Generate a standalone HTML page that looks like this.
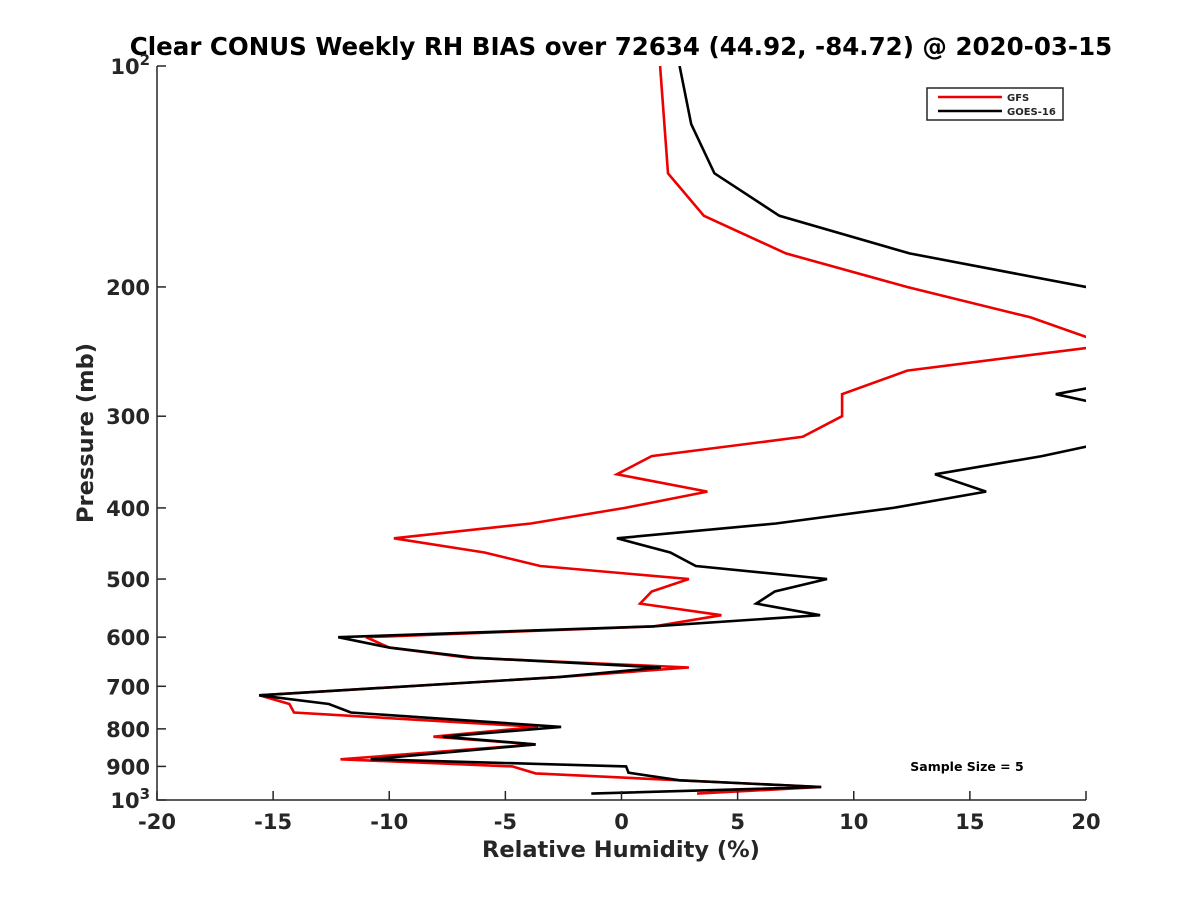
<!DOCTYPE html>
<html><head><meta charset="utf-8"><style>
body{margin:0;background:#fff}
svg text{font-family:"DejaVu Sans","Liberation Sans",sans-serif;font-weight:bold;fill:#262626}
</style></head><body>
<svg id="c" width="1200" height="900">
<rect width="1200" height="900" fill="#fff"/>
<text x="621" y="55" font-size="24.5" text-anchor="middle" style="fill:#000">Clear CONUS Weekly RH BIAS over 72634 (44.92, -84.72) @ 2020-03-15</text>
<defs><clipPath id="clip"><rect x="157" y="66" width="929" height="734"/></clipPath></defs>
<g id="series" clip-path="url(#clip)"></g>
<g id="axes"></g>
<g>
<rect x="927" y="88" width="136" height="32" fill="#fff" stroke="#262626" stroke-width="1.5"/>
<line x1="938" y1="97" x2="1002" y2="97" stroke="#e00" stroke-width="2.5"/>
<text x="1007" y="101" font-size="10">GFS</text>
<line x1="938" y1="111" x2="1002" y2="111" stroke="#000" stroke-width="2.5"/>
<text x="1007" y="115" font-size="10">GOES-16</text>
</g>
<text x="967" y="771" font-size="12.5" text-anchor="middle" style="fill:#000">Sample Size = 5</text>
<text x="621" y="857" font-size="22.5" text-anchor="middle">Relative Humidity (%)</text>
<text transform="translate(93,433) rotate(-90)" font-size="22.5" text-anchor="middle">Pressure (mb)</text>
</svg>
<script>
const gfsPressure=[100,140,160,180,200,220,240,260,280,300,320,340,360,380,400,420,440,460,480,500,520,540,560,580,600,620,640,660,680,720,740,760,795,820,840,880,900,920,940,960,980];
const gfsValues=[1.66,2.0,3.55,7.08,12.3,17.6,21.0,12.3,9.5,9.5,7.8,1.3,-0.2,3.7,0.15,-3.9,-9.8,-5.9,-3.5,2.9,1.3,0.8,4.3,1.4,-11.0,-10.0,-6.6,2.9,-2.7,-15.6,-14.3,-14.1,-3.6,-8.1,-3.7,-12.1,-4.7,-3.7,2.5,8.6,3.25];
const goesPressure=[100,120,140,160,180,200,220,260,280,300,320,340,360,380,400,420,440,460,480,500,520,540,560,580,600,620,640,660,680,720,740,760,795,820,840,880,890,900,918,940,960,980];
const goesValues=[2.5,3.0,4.0,6.8,12.4,20.0,24,24,18.7,23,22,18.1,13.5,15.7,11.7,6.65,-0.2,2.1,3.2,8.85,6.6,5.8,8.55,1.3,-12.2,-10.0,-6.35,1.7,-2.7,-15.6,-12.6,-11.65,-2.6,-7.7,-3.7,-10.8,-5.2,0.2,0.3,2.5,8.6,-1.3];
const xTicks=[-20,-15,-10,-5,0,5,10,15,20];
const yTicks=[100,200,300,400,500,600,700,800,900,1000];
const L=157,R=1086,T=66,B=800;
const xs=v=>L+(v+20)/40*(R-L);
const ys=p=>T+Math.log10(p/100)*(B-T);
const NS="http://www.w3.org/2000/svg";
function mk(t,a,parent){const e=document.createElementNS(NS,t);for(const k in a)e.setAttribute(k,a[k]);parent.appendChild(e);return e;}
const sg=document.getElementById('series'),ag=document.getElementById('axes');
function line(ps,vs,col,name){
  const d=ps.map((p,i)=>(i?'L':'M')+xs(vs[i]).toFixed(1)+' '+ys(p).toFixed(1)).join(' ');
  const e=mk('path',{d:d,fill:'none',stroke:col,'stroke-width':2.6,'stroke-linejoin':'miter'},sg);
  
  
}
line(gfsPressure,gfsValues,'#e00','gfs-line');
line(goesPressure,goesValues,'#000','goes-16-line');
const ax=mk('path',{d:`M${L} ${T} L${L} ${B} L${R} ${B}`,fill:'none',stroke:'#262626','stroke-width':1.5},ag);


xTicks.forEach(v=>{
  const x=xs(v);
  const t=mk('line',{x1:x,y1:B,x2:x,y2:B-9,stroke:'#262626','stroke-width':1.5},ag);
  
  
  const tx=mk('text',{x:x,y:B+29,'font-size':21,'text-anchor':'middle'},ag);
  tx.textContent=v;
  
  
});
yTicks.forEach(p=>{
  const y=ys(p);
  const t=mk('line',{x1:L,y1:y,x2:L+9,y2:y,stroke:'#262626','stroke-width':1.5},ag);
  
  
  const tx=mk('text',{x:150,y:y+8,'font-size':21,'text-anchor':'end'},ag);
  if(p===100||p===1000){
    tx.textContent='10';
    const s=mk('tspan',{'font-size':15,dy:-9},tx);s.textContent=p===100?'2':'3';
  } else tx.textContent=p;
  
  
});
</script>
</body></html>
